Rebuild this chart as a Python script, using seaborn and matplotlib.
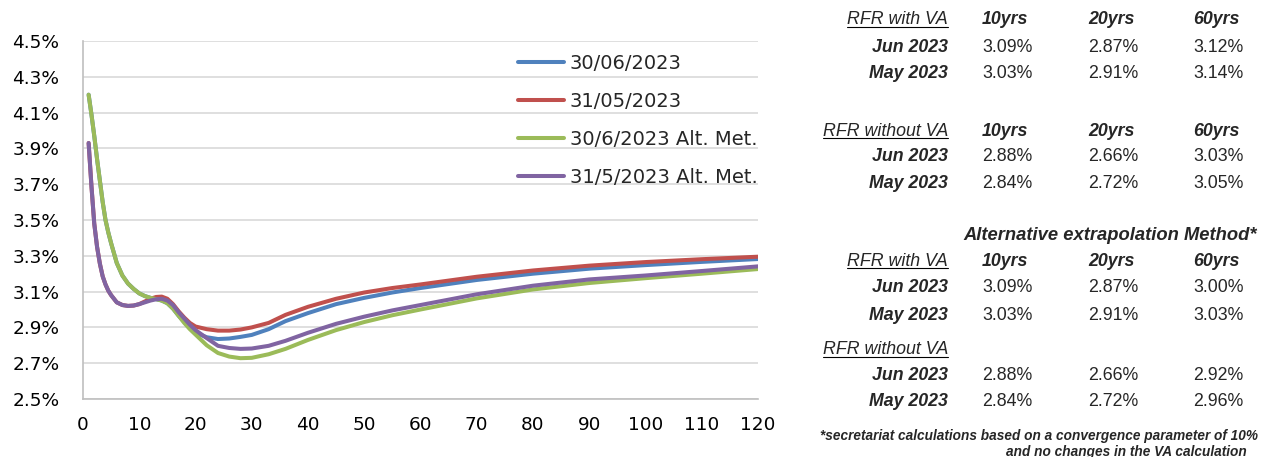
import numpy as np
import pandas as pd
import matplotlib
matplotlib.use("Agg")
import matplotlib.pyplot as plt
import seaborn as sns
from matplotlib.lines import Line2D

# maturities (years) and curve values (%)
maturities = [1, 1.5, 2, 2.5, 3, 3.5, 4, 4.5, 5, 6, 7, 8, 9, 10, 11, 12, 13, 14, 15, 16, 17, 18, 19, 20,
              22, 24, 26, 28, 30, 33, 36, 40, 45, 50, 55, 60, 70, 80, 90, 100, 110, 120]

jun_2023 = [4.20, 4.09, 3.97, 3.84, 3.72, 3.60, 3.50, 3.43, 3.37, 3.26, 3.19, 3.145, 3.115, 3.09,
            3.075, 3.065, 3.058, 3.05, 3.035, 3.005, 2.965, 2.93, 2.895, 2.87,
            2.845, 2.835, 2.838, 2.847, 2.858, 2.89, 2.935, 2.98, 3.03, 3.065,
            3.095, 3.12, 3.165, 3.20, 3.228, 3.248, 3.266, 3.282]

may_2023 = [3.93, 3.69, 3.48, 3.35, 3.256, 3.185, 3.14, 3.105, 3.08, 3.04, 3.025, 3.02, 3.022, 3.03,
            3.045, 3.06, 3.07, 3.072, 3.06, 3.03, 2.99, 2.955, 2.925, 2.905,
            2.89, 2.882, 2.882, 2.888, 2.90, 2.925, 2.97, 3.015, 3.06, 3.095,
            3.12, 3.14, 3.183, 3.218, 3.245, 3.265, 3.281, 3.295]

jun_2023_alt = [4.20, 4.09, 3.97, 3.84, 3.72, 3.60, 3.50, 3.43, 3.37, 3.26, 3.19, 3.145, 3.115, 3.09,
                3.075, 3.065, 3.058, 3.05, 3.035, 3.005, 2.965, 2.925, 2.89, 2.86,
                2.80, 2.757, 2.737, 2.728, 2.73, 2.75, 2.78, 2.83, 2.885, 2.93,
                2.968, 3.00, 3.062, 3.112, 3.148, 3.175, 3.20, 3.226]

may_2023_alt = [3.93, 3.69, 3.48, 3.35, 3.256, 3.185, 3.14, 3.105, 3.08, 3.04, 3.025, 3.02, 3.022, 3.03,
                3.04, 3.05, 3.057, 3.06, 3.05, 3.025, 2.985, 2.95, 2.915, 2.885,
                2.84, 2.797, 2.785, 2.78, 2.782, 2.797, 2.825, 2.87, 2.92, 2.96,
                2.995, 3.025, 3.085, 3.133, 3.168, 3.19, 3.215, 3.241]

series_names = ["30/06/2023", "31/05/2023", "30/6/2023 Alt. Met.", "31/5/2023 Alt. Met."]
series_colors = ["#4F81BD", "#C0504D", "#9BBB59", "#8064A2"]

y_ticks = [2.5, 2.7, 2.9, 3.1, 3.3, 3.5, 3.7, 3.9, 4.1, 4.3, 4.5]
x_ticks = [0, 10, 20, 30, 40, 50, 60, 70, 80, 90, 100, 110, 120]

# summary table on the right
term_headers = ["10yrs", "20yrs", "60yrs"]
with_va_jun = [3.09, 2.87, 3.12]
with_va_may = [3.03, 2.91, 3.14]
without_va_jun = [2.88, 2.66, 3.03]
without_va_may = [2.84, 2.72, 3.05]
alt_with_va_jun = [3.09, 2.87, 3.00]
alt_with_va_may = [3.03, 2.91, 3.03]
alt_without_va_jun = [2.88, 2.66, 2.92]
alt_without_va_may = [2.84, 2.72, 2.96]

frames = []
for name, vals in zip(series_names, [jun_2023, may_2023, jun_2023_alt, may_2023_alt]):
    frames.append(pd.DataFrame({"maturity": maturities, "rate": vals, "curve": name}))
df = pd.concat(frames, ignore_index=True)

sns.set_theme(style="white")
plt.rcParams["font.family"] = ["DejaVu Sans"]

W, H = 1274, 457
fig = plt.figure(figsize=(W / 100, H / 100), dpi=100)
ax = fig.add_axes([83 / W, 1 - 399 / H, (758 - 83) / W, (399 - 41) / H])

sns.lineplot(data=df, x="maturity", y="rate", hue="curve", hue_order=series_names,
             palette=series_colors, linewidth=2.9, ax=ax)
for ln in ax.get_lines():
    ln.set_solid_joinstyle("round")
    ln.set_solid_capstyle("round")

ax.set_xlim(0, 120)
ax.set_ylim(2.5, 4.5)
ax.set_xticks(x_ticks)
ax.set_yticks(y_ticks)
ax.set_yticklabels([f"{v:.1f}%" for v in y_ticks])
ax.tick_params(length=0, labelsize=13.3, colors="#000000")
ax.tick_params(axis="y", pad=17)
ax.tick_params(axis="x", pad=12)
ax.set_xlabel("")
ax.set_ylabel("")
ax.grid(axis="y", color="#D9D9D9", linewidth=1.2)
ax.set_axisbelow(True)
for side in ["top", "right"]:
    ax.spines[side].set_visible(False)
for side in ["left", "bottom"]:
    ax.spines[side].set_color("#BFBFBF")
    ax.spines[side].set_linewidth(1.2)

leg = ax.legend(loc="upper left", bbox_to_anchor=(518 / W, 1 - 54 / H), bbox_transform=fig.transFigure,
                frameon=False, fontsize=14, handlelength=2.35, handletextpad=0.3,
                labelspacing=0.97, borderpad=0, borderaxespad=0)
for ln in leg.get_lines():
    ln.set_linewidth(2.9)

# table
tf = "Liberation Sans"
fs = 12.8
lab_x = 948 / W
col_x = [982 / W, 1088 / W, 1193 / W]
underlined = []


def fy(y):
    return 1 - y / H


def block(title, header_y, jun_y, may_y, jun_vals, may_vals, headers=True):
    t = fig.text(lab_x, fy(header_y), title, ha="right", va="center", fontsize=fs,
                 style="italic", family=tf)
    underlined.append(t)
    if headers:
        for x, h in zip(col_x, term_headers):
            fig.text(x, fy(header_y), h, ha="left", va="center", fontsize=fs,
                     style="italic", weight="bold", family=tf)
    for y, lab, vals in [(jun_y, "Jun 2023", jun_vals), (may_y, "May 2023", may_vals)]:
        fig.text(lab_x, fy(y), lab, ha="right", va="center", fontsize=fs,
                 style="italic", weight="bold", family=tf)
        for x, v in zip(col_x, vals):
            fig.text(x, fy(y), f"{v:.2f}%", ha="left", va="center", fontsize=fs, family=tf)


block("RFR with VA", 20, 47, 74, with_va_jun, with_va_may)
block("RFR without VA", 131, 157, 184, without_va_jun, without_va_may)
fig.text(1257 / W, fy(236), "Alternative extrapolation Method*", ha="right", va="center",
         fontsize=13.2, style="italic", weight="bold", family=tf)
block("RFR with VA", 261, 288, 315, alt_with_va_jun, alt_with_va_may)
block("RFR without VA", 350, 376, 401, alt_without_va_jun, alt_without_va_may, headers=False)

fig.text(1258 / W, fy(436), "*secretariat calculations based on a convergence parameter of 10%",
         ha="right", va="center", fontsize=9.85, style="italic", weight="bold", family=tf)
fig.text(1247 / W, fy(452), "and no changes in the VA calculation",
         ha="right", va="center", fontsize=9.85, style="italic", weight="bold", family=tf)

# underline the block titles
fig.canvas.draw()
renderer = fig.canvas.get_renderer()
for t in underlined:
    bb = t.get_window_extent(renderer)
    yb = bb.y0 + 2
    fig.add_artist(Line2D([bb.x0 / W, bb.x1 / W], [yb / H, yb / H], color="#000000",
                          linewidth=0.8, transform=fig.transFigure))

fig.savefig("out.png", dpi=100)
